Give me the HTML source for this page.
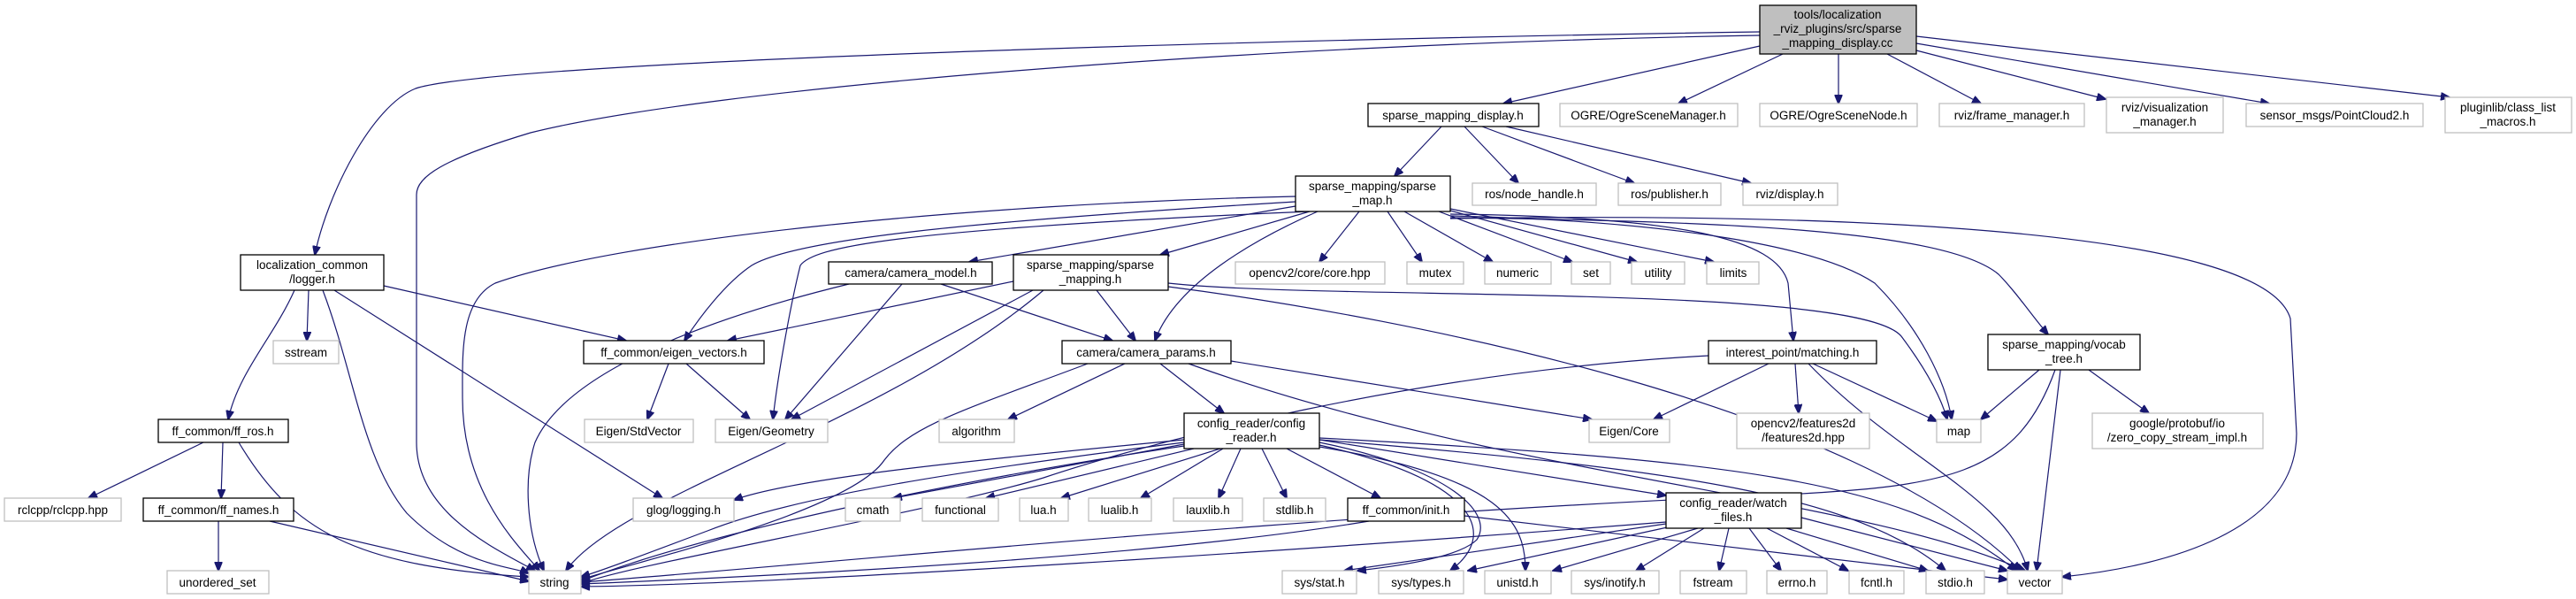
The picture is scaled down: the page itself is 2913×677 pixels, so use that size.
<!DOCTYPE html>
<html><head><meta charset="utf-8"><style>
html,body{margin:0;padding:0;background:#fff;}
svg{display:block;}
text{font-family:"Liberation Sans",sans-serif;font-size:13.5px;fill:#000;text-anchor:middle;}
.b{fill:#fff;stroke:#000;stroke-width:1.3;}
.g{fill:#fff;stroke:#bfbfbf;stroke-width:1.3;}
.r{fill:#bfbfbf;stroke:#000;stroke-width:1.3;}
path{fill:none;stroke:#191970;stroke-width:1.2;marker-end:url(#a);}
</style></head><body>
<svg width="2913" height="677" viewBox="0 0 2913 677" xmlns="http://www.w3.org/2000/svg">
<defs><marker id="a" markerWidth="11" markerHeight="9" refX="10" refY="4.5" orient="auto" markerUnits="userSpaceOnUse"><polygon points="0,0 11,4.5 0,9" fill="#191970" stroke="#191970"/></marker></defs>

<!-- edges root -->
<path d="M1990,52 L1700,117"/>
<path d="M2016,61 L1898,117"/>
<path d="M2079,61 L2079,117"/>
<path d="M2134,61 L2240,117"/>
<path d="M2167,57 L2381,112"/>
<path d="M2167,49 L2566,117"/>
<path d="M2167,41 L2770,110"/>
<path d="M1990,36 C1400,45 560,70 470,100 C420,120 370,220 356,288"/>
<path d="M1990,40 C1400,50 800,100 600,150 C500,180 471,200 471,220 L471,500 C471,580 560,620 605,645"/>
<!-- SMD -->
<path d="M1630,143 L1577,199"/>
<path d="M1656,143 L1717,207"/>
<path d="M1676,143 L1848,207"/>
<path d="M1703,143 L1980,207"/>
<!-- SMAP -->
<path d="M1465,222 C1100,230 700,270 560,320 C520,340 523,400 523,450 C523,560 590,620 610,645"/>
<path d="M1465,228 C1100,250 900,270 850,300 C820,320 790,360 774,385"/>
<path d="M1480,239 C1000,260 920,280 905,300 C895,340 880,420 874,474"/>
<path d="M1465,233 L1096,296"/>
<path d="M1481,239 L1312,288"/>
<path d="M1490,239 C1420,270 1330,320 1306,385"/>
<path d="M1537,239 L1492,296"/>
<path d="M1569,239 L1608,296"/>
<path d="M1588,239 L1688,296"/>
<path d="M1627,239 L1778,296"/>
<path d="M1640,238 L1851,296"/>
<path d="M1640,236 L1938,296"/>
<path d="M1640,242 C1900,245 2010,270 2022,320 L2028,385"/>
<path d="M1640,244 C1900,250 2060,280 2120,320 C2170,370 2200,430 2207,474"/>
<path d="M1640,246 C1950,250 2200,260 2260,310 C2280,330 2300,360 2316,378"/>
<path d="M1640,247 C2100,240 2560,260 2590,360 L2597,490 C2597,600 2450,640 2332,652"/>
<!-- LOG -->
<path d="M349,328 L347,385"/>
<path d="M333,328 C310,380 270,420 258,474"/>
<path d="M365,328 C400,420 410,520 460,580 C520,640 580,640 598,648"/>
<path d="M378,328 L749,563"/>
<path d="M434,323 L708,385"/>
<!-- CM -->
<path d="M1064,321 L1258,385"/>
<path d="M960,321 C800,360 640,420 605,500 C592,540 595,600 615,645"/>
<path d="M1020,321 L888,474"/>
<!-- SMG -->
<path d="M1146,318 L823,385"/>
<path d="M1168,328 L895,474"/>
<path d="M1240,328 L1284,385"/>
<path d="M1180,328 C1000,480 700,560 640,645"/>
<path d="M1321,320 C1500,340 2100,320 2150,380 C2180,420 2195,450 2202,474"/>
<path d="M1321,324 C1600,360 2100,460 2285,645"/>
<!-- EV -->
<path d="M756,411 L732,474"/>
<path d="M776,411 L848,474"/>
<!-- CP -->
<path d="M1272,411 L1140,474"/>
<path d="M1312,411 L1384,467"/>
<path d="M1392,408 L1800,474"/>
<path d="M1344,411 C1700,540 2100,560 2290,645"/>
<path d="M1230,411 C1100,460 1030,480 1000,520 C960,580 700,640 657,655"/>
<!-- MATCH -->
<path d="M2000,411 L1870,474"/>
<path d="M2030,411 L2034,467"/>
<path d="M2050,411 L2190,476"/>
<path d="M2045,411 C2150,520 2270,560 2293,645"/>
<path d="M1932,402 C1600,420 1300,500 1180,540 C1050,580 700,640 657,660"/>
<!-- VT -->
<path d="M2306,418 L2240,474"/>
<path d="M2362,418 L2430,467"/>
<path d="M2330,418 L2303,645"/>
<path d="M2324,418 C2280,540 2200,550 2000,560 C1500,580 900,640 657,658"/>
<!-- FFROS / FFN -->
<path d="M230,500 L100,563"/>
<path d="M252,500 L250,563"/>
<path d="M270,500 C330,600 400,640 598,652"/>
<path d="M247,589 L247,645"/>
<path d="M305,589 L598,657"/>
<!-- CR -->
<path d="M1339,497 C1100,520 900,540 830,565"/>
<path d="M1339,500 C1100,530 900,560 800,600 C720,630 680,645 657,652"/>
<path d="M1339,504 C1100,540 800,600 657,657"/>
<path d="M1339,502 L1010,563"/>
<path d="M1350,507 L1115,563"/>
<path d="M1380,507 L1200,563"/>
<path d="M1383,507 L1290,563"/>
<path d="M1403,507 L1378,563"/>
<path d="M1427,507 L1455,563"/>
<path d="M1455,507 L1561,563"/>
<path d="M1492,497 L1884,560"/>
<path d="M1492,500 C1640,530 1690,580 1670,610 C1650,630 1580,640 1535,645"/>
<path d="M1492,503 C1660,540 1700,600 1640,645"/>
<path d="M1492,505 C1700,540 1725,590 1725,645"/>
<path d="M1492,497 C1900,530 2100,560 2200,645"/>
<path d="M1492,495 C1950,520 2150,540 2280,645"/>
<!-- INIT -->
<path d="M1548,589 C1300,630 900,650 657,660"/>
<path d="M1656,583 L2270,655"/>
<!-- WF -->
<path d="M1884,590 C1500,620 900,660 657,663"/>
<path d="M1884,592 L1520,645"/>
<path d="M1890,595 L1660,645"/>
<path d="M1920,597 L1756,645"/>
<path d="M1927,597 L1850,645"/>
<path d="M1955,597 L1944,645"/>
<path d="M1978,597 L2014,645"/>
<path d="M1998,597 L2090,645"/>
<path d="M2020,597 L2180,645"/>
<path d="M2037,585 L2270,645"/>

<!-- nodes -->
<rect class="r" x="1990" y="6" width="177" height="55"/>
<text x="2078" y="21">tools/localization</text><text x="2078" y="37">_rviz_plugins/src/sparse</text><text x="2078" y="53">_mapping_display.cc</text>

<rect class="b" x="1547" y="117" width="193" height="26"/><text x="1643" y="135">sparse_mapping_display.h</text>
<rect class="g" x="1764" y="117" width="201" height="26"/><text x="1864" y="135">OGRE/OgreSceneManager.h</text>
<rect class="g" x="1990" y="117" width="178" height="26"/><text x="2079" y="135">OGRE/OgreSceneNode.h</text>
<rect class="g" x="2193" y="117" width="164" height="26"/><text x="2275" y="135">rviz/frame_manager.h</text>
<rect class="g" x="2382" y="110" width="132" height="40"/><text x="2448" y="126">rviz/visualization</text><text x="2448" y="142">_manager.h</text>
<rect class="g" x="2540" y="117" width="200" height="26"/><text x="2640" y="135">sensor_msgs/PointCloud2.h</text>
<rect class="g" x="2765" y="110" width="143" height="40"/><text x="2836" y="126">pluginlib/class_list</text><text x="2836" y="142">_macros.h</text>

<rect class="b" x="1465" y="199" width="175" height="40"/><text x="1552" y="215">sparse_mapping/sparse</text><text x="1552" y="231">_map.h</text>
<rect class="g" x="1665" y="207" width="140" height="25"/><text x="1735" y="224">ros/node_handle.h</text>
<rect class="g" x="1830" y="207" width="116" height="25"/><text x="1888" y="224">ros/publisher.h</text>
<rect class="g" x="1971" y="207" width="107" height="25"/><text x="2024" y="224">rviz/display.h</text>

<rect class="b" x="272" y="288" width="162" height="40"/><text x="353" y="304">localization_common</text><text x="353" y="320">/logger.h</text>
<rect class="b" x="937" y="296" width="185" height="25"/><text x="1030" y="313">camera/camera_model.h</text>
<rect class="b" x="1146" y="288" width="175" height="40"/><text x="1233" y="304">sparse_mapping/sparse</text><text x="1233" y="320">_mapping.h</text>
<rect class="g" x="1397" y="296" width="169" height="25"/><text x="1481" y="313">opencv2/core/core.hpp</text>
<rect class="g" x="1591" y="296" width="64" height="25"/><text x="1623" y="313">mutex</text>
<rect class="g" x="1679" y="296" width="75" height="25"/><text x="1716" y="313">numeric</text>
<rect class="g" x="1777" y="296" width="44" height="25"/><text x="1799" y="313">set</text>
<rect class="g" x="1845" y="296" width="60" height="25"/><text x="1875" y="313">utility</text>
<rect class="g" x="1930" y="296" width="59" height="25"/><text x="1960" y="313">limits</text>

<rect class="g" x="309" y="385" width="74" height="26"/><text x="346" y="403">sstream</text>
<rect class="b" x="660" y="385" width="204" height="26"/><text x="762" y="403">ff_common/eigen_vectors.h</text>
<rect class="b" x="1201" y="385" width="191" height="26"/><text x="1296" y="403">camera/camera_params.h</text>
<rect class="b" x="1932" y="385" width="190" height="26"/><text x="2027" y="403">interest_point/matching.h</text>
<rect class="b" x="2248" y="378" width="172" height="40"/><text x="2334" y="394">sparse_mapping/vocab</text><text x="2334" y="410">_tree.h</text>

<rect class="b" x="179" y="474" width="147" height="26"/><text x="252" y="492">ff_common/ff_ros.h</text>
<rect class="g" x="661" y="474" width="123" height="26"/><text x="722" y="492">Eigen/StdVector</text>
<rect class="g" x="809" y="474" width="127" height="26"/><text x="872" y="492">Eigen/Geometry</text>
<rect class="g" x="1062" y="474" width="85" height="26"/><text x="1104" y="492">algorithm</text>
<rect class="b" x="1339" y="467" width="153" height="40"/><text x="1415" y="483">config_reader/config</text><text x="1415" y="499">_reader.h</text>
<rect class="g" x="1797" y="474" width="91" height="26"/><text x="1842" y="492">Eigen/Core</text>
<rect class="g" x="1964" y="467" width="150" height="40"/><text x="2039" y="483">opencv2/features2d</text><text x="2039" y="499">/features2d.hpp</text>
<rect class="g" x="2190" y="474" width="50" height="26"/><text x="2215" y="492">map</text>
<rect class="g" x="2366" y="467" width="193" height="40"/><text x="2462" y="483">google/protobuf/io</text><text x="2462" y="499">/zero_copy_stream_impl.h</text>

<rect class="g" x="5" y="563" width="132" height="26"/><text x="71" y="581">rclcpp/rclcpp.hpp</text>
<rect class="b" x="162" y="563" width="170" height="26"/><text x="247" y="581">ff_common/ff_names.h</text>
<rect class="g" x="716" y="563" width="114" height="26"/><text x="773" y="581">glog/logging.h</text>
<rect class="g" x="956" y="563" width="62" height="26"/><text x="987" y="581">cmath</text>
<rect class="g" x="1043" y="563" width="86" height="26"/><text x="1086" y="581">functional</text>
<rect class="g" x="1153" y="563" width="55" height="26"/><text x="1180" y="581">lua.h</text>
<rect class="g" x="1231" y="563" width="71" height="26"/><text x="1266" y="581">lualib.h</text>
<rect class="g" x="1327" y="563" width="78" height="26"/><text x="1366" y="581">lauxlib.h</text>
<rect class="g" x="1429" y="563" width="70" height="26"/><text x="1464" y="581">stdlib.h</text>
<rect class="b" x="1524" y="563" width="132" height="26"/><text x="1590" y="581">ff_common/init.h</text>
<rect class="b" x="1884" y="557" width="153" height="40"/><text x="1960" y="573">config_reader/watch</text><text x="1960" y="589">_files.h</text>

<rect class="g" x="189" y="645" width="115" height="26"/><text x="246" y="663">unordered_set</text>
<rect class="g" x="598" y="645" width="59" height="26"/><text x="627" y="663">string</text>
<rect class="g" x="1450" y="645" width="84" height="26"/><text x="1492" y="663">sys/stat.h</text>
<rect class="g" x="1559" y="645" width="96" height="26"/><text x="1607" y="663">sys/types.h</text>
<rect class="g" x="1679" y="645" width="75" height="26"/><text x="1716" y="663">unistd.h</text>
<rect class="g" x="1777" y="645" width="99" height="26"/><text x="1826" y="663">sys/inotify.h</text>
<rect class="g" x="1900" y="645" width="75" height="26"/><text x="1937" y="663">fstream</text>
<rect class="g" x="1998" y="645" width="68" height="26"/><text x="2032" y="663">errno.h</text>
<rect class="g" x="2091" y="645" width="62" height="26"/><text x="2122" y="663">fcntl.h</text>
<rect class="g" x="2178" y="645" width="66" height="26"/><text x="2211" y="663">stdio.h</text>
<rect class="g" x="2270" y="645" width="62" height="26"/><text x="2301" y="663">vector</text>
</svg>
</body></html>
